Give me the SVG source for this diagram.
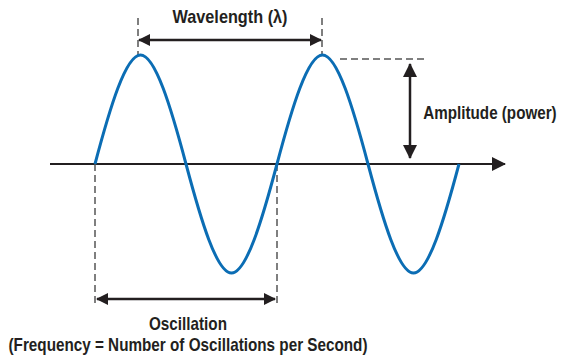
<svg xmlns="http://www.w3.org/2000/svg" width="564" height="357" viewBox="0 0 564 357">
<style>
.lbl{font-family:"Liberation Sans",Arial,sans-serif;font-weight:bold;fill:#231f20;text-anchor:middle}
.dash{stroke:#555;stroke-width:1.5;stroke-dasharray:7 4;fill:none}
.arr{stroke:#231f20;stroke-width:2.5;fill:none}
</style>
<defs>
<marker id="ah" viewBox="0 0 12 12" refX="11" refY="6" markerWidth="12" markerHeight="12" markerUnits="userSpaceOnUse" orient="auto-start-reverse">
<path d="M0,0 L12,6 L0,12 Z" fill="#231f20"/>
</marker>
<marker id="ahx" viewBox="0 0 14 14" refX="13" refY="7" markerWidth="14" markerHeight="14" markerUnits="userSpaceOnUse" orient="auto-start-reverse">
<path d="M0,0 L14,7 L0,14 Z" fill="#231f20"/>
</marker>
</defs>
<g id="connectors">
<line id="axis" x1="50" y1="164" x2="505" y2="164" stroke="#231f20" stroke-width="2" marker-end="url(#ahx)"/>
<line class="dash" x1="138" y1="18" x2="138" y2="55"/>
<line class="dash" x1="322" y1="18" x2="322" y2="55"/>
<line class="arr" x1="139" y1="40" x2="321" y2="40" marker-start="url(#ah)" marker-end="url(#ah)"/>
<line class="dash" x1="340" y1="59" x2="424" y2="59"/>
<line class="arr" x1="410" y1="64" x2="410" y2="158" marker-start="url(#ahx)" marker-end="url(#ahx)"/>
<line class="dash" x1="95" y1="164" x2="95" y2="304"/>
<line class="dash" x1="277" y1="164" x2="277" y2="304"/>
<line class="arr" x1="97" y1="299" x2="275" y2="299" marker-start="url(#ah)" marker-end="url(#ah)"/>
</g>
<g id="wave">
<path d="M95,164 C109.84,108.16 125.66,55 140.5,55 C155.34,55 171.16,108.16 186,164 C200.84,219.84 216.66,273 231.5,273 C246.34,273 262.16,219.84 277,164 C291.84,108.16 307.66,55 322.5,55 C337.34,55 353.16,108.16 368,164 C382.84,219.84 398.66,273 413.5,273 C428.34,273 444.16,219.84 459,164" fill="none" stroke="#0b6db4" stroke-width="3"/>
</g>
<g id="wavelength-label">
<text class="lbl" x="230" y="23" font-size="19" textLength="115" lengthAdjust="spacingAndGlyphs">Wavelength (λ)</text>
</g>
<g id="amplitude-label">
<text class="lbl" transform="translate(490,119) scale(0.8,1)" x="0" y="0" font-size="19">Amplitude (power)</text>
</g>
<g id="oscillation-label">
<text class="lbl" x="188" y="330" font-size="19" textLength="78" lengthAdjust="spacingAndGlyphs">Oscillation</text>
<text class="lbl" x="188" y="351" font-size="19" textLength="359" lengthAdjust="spacingAndGlyphs">(Frequency = Number of Oscillations per Second)</text>
</g>
</svg>
